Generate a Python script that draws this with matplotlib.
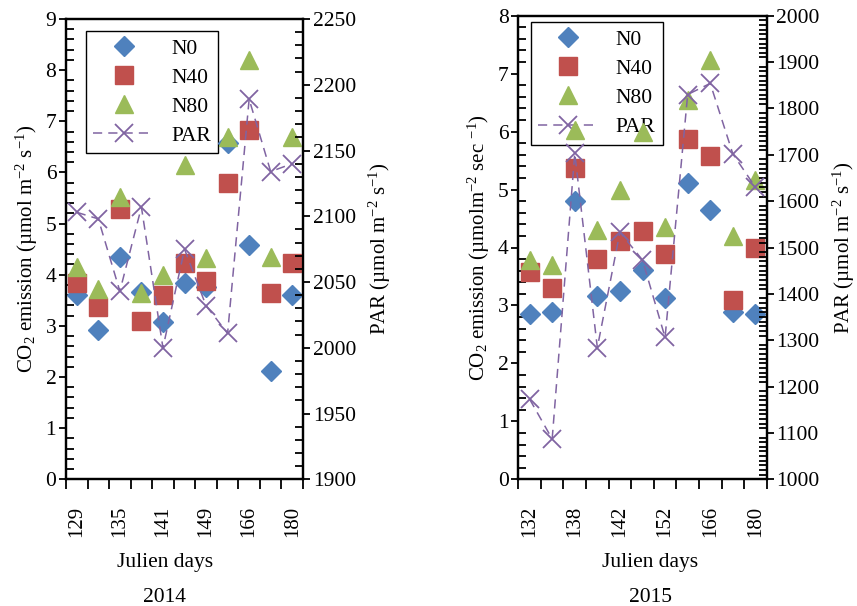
import numpy as np
import matplotlib
matplotlib.use('Agg')
import matplotlib.pyplot as plt
from matplotlib.ticker import MultipleLocator, FixedLocator

plt.rcParams['font.family'] = ['Liberation Serif', 'DejaVu Serif']
plt.rcParams['mathtext.fontset'] = 'custom'
plt.rcParams['mathtext.rm'] = 'Liberation Serif'
plt.rcParams['mathtext.it'] = 'Liberation Serif:italic'
plt.rcParams['font.size'] = 15.5

# ---- data, 2014 ----
labels_2014 = ['129', '', '135', '', '141', '', '149', '', '166', '', '180']
n0_2014 = [3.60, 2.91, 4.34, 3.66, 3.07, 3.84, 3.76, 6.58, 4.59, 2.12, 3.60]
n40_2014 = [3.84, 3.36, 5.28, 3.10, 3.60, 4.22, 3.88, 5.80, 6.83, 3.65, 4.22]
n80_2014 = [4.16, 3.73, 5.52, 3.65, 3.99, 6.14, 4.32, 6.70, 8.20, 4.35, 6.70]
par_2014 = [2103, 2098, 2043, 2107, 2000, 2075, 2032, 2011, 2189, 2134, 2140]

# ---- data, 2015 ----
labels_2015 = ['132', '', '138', '', '142', '', '152', '', '166', '', '180']
n0_2015 = [2.86, 2.88, 4.80, 3.17, 3.25, 3.62, 3.13, 5.11, 4.64, 2.89, 2.86]
n40_2015 = [3.58, 3.30, 5.37, 3.80, 4.11, 4.29, 3.89, 5.87, 5.58, 3.09, 4.00]
n80_2015 = [3.78, 3.70, 6.03, 4.30, 4.99, 6.00, 4.36, 6.55, 7.24, 4.19, 5.16]
par_2015 = [1173, 1087, 1703, 1284, 1533, 1473, 1306, 1830, 1854, 1702, 1630]

C_N0 = '#4F81BD'
C_N40 = '#C0504D'
C_N80 = '#9BBB59'
C_PAR = '#8064A2'

fig = plt.figure(figsize=(8.57, 6.06), dpi=100)


def panel(rect, labels, n0, n40, n80, par, ymax, plim, pmaj, pmin,
          ylab, plab, year, leg_anchor, xlab_x):
    ax = fig.add_axes(rect)
    x = np.arange(1, len(labels) + 1)
    ax.plot(x, n0, ls='none', marker='D', ms=10.5, color=C_N0, label='N0', zorder=3)
    ax.plot(x, n40, ls='none', marker='s', ms=13.5, color=C_N40, label='N40', zorder=3)
    ax.plot(x, n80, ls='none', marker='^', ms=13.5, color=C_N80, label='N80', zorder=3)
    ax.set_xlim(0.5, len(labels) + 0.5)
    ax.set_ylim(0, ymax)
    ax.yaxis.set_major_locator(MultipleLocator(1))
    ax.yaxis.set_minor_locator(MultipleLocator(0.2))
    ax.set_xticks(x)
    ax.set_xticklabels(labels, rotation=90)
    ax.xaxis.set_minor_locator(FixedLocator(np.arange(0.5, len(labels) + 1, 1)))
    ax.tick_params(axis='x', which='major', length=0, pad=19, labelsize=15)
    ax.tick_params(axis='x', which='minor', direction='out', length=7, width=1.3)
    ax.tick_params(axis='y', which='major', direction='out', length=5, width=1.3, pad=2)
    ax.tick_params(axis='y', which='minor', direction='in', length=6, width=1.3)
    for s in ax.spines.values():
        s.set_linewidth(1.6)
    ax.set_ylabel(ylab, labelpad=4, fontsize=15)

    ax2 = ax.twinx()
    ax2.plot(x, par, ls=(0, (6, 4)), lw=1.1, color=C_PAR, marker='x', ms=13,
             mew=1.3, label='PAR')
    ax2.set_ylim(*plim)
    ax2.yaxis.set_major_locator(MultipleLocator(pmaj))
    ax2.yaxis.set_minor_locator(MultipleLocator(pmin))
    ax2.tick_params(axis='y', which='major', direction='out', length=5, width=1.3, pad=2)
    ax2.tick_params(axis='y', which='minor', direction='in', length=6, width=1.3)
    for s in ax2.spines.values():
        s.set_linewidth(1.6)
    ax2.set_ylabel(plab, labelpad=8, fontsize=15)

    h1, l1 = ax.get_legend_handles_labels()
    h2, l2 = ax2.get_legend_handles_labels()
    leg = ax.legend(h1 + h2, l1 + l2, loc='upper left', bbox_to_anchor=leg_anchor,
                    borderaxespad=0, fancybox=False, edgecolor='black',
                    framealpha=1, handlelength=2.8, handletextpad=0.8,
                    labelspacing=0.42, borderpad=0.35, fontsize=15.5)
    leg.get_frame().set_linewidth(1.0)
    leg.set_zorder(1)

    fig.text(xlab_x, 1 - 563 / 606, 'Julien days', ha='center', va='center', fontsize=15.5)
    fig.text(xlab_x, 1 - 598 / 606, year, ha='center', va='center', fontsize=15.5)
    return ax, ax2


panel([66 / 857, 1 - 479.3 / 606, 237 / 857, 460.3 / 606],
      labels_2014, n0_2014, n40_2014, n80_2014, par_2014,
      9, (1900, 2250), 50, 10,
      'CO$_2$ emission (µmol m$^{-2}$ s$^{-1}$)',
      'PAR (µmol m$^{-2}$ s$^{-1}$)', '2014', (0.084, 0.974), 165 / 857)

panel([518.3 / 857, 1 - 479.3 / 606, 248.4 / 857, 463.6 / 606],
      labels_2015, n0_2015, n40_2015, n80_2015, par_2015,
      8, (1000, 2000), 100, 10,
      'CO$_2$ emission (µmolm$^{-2}$ sec $^{-1}$)',
      'PAR (µmol m$^{-2}$ s$^{-1}$)', '2015', (0.05, 0.986), 650 / 857)

fig.savefig('out.png', dpi=100)
